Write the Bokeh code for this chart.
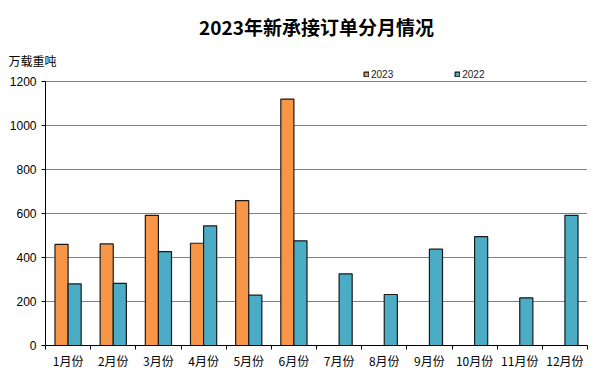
from bokeh.plotting import figure
from bokeh.models import (ColumnDataSource, FixedTicker, Range1d, Title,
                          Legend, LegendItem)
from bokeh.transform import dodge
from bokeh.embed import file_html
from bokeh.resources import INLINE

# ---- data -------------------------------------------------------------
months = ["1月份", "2月份", "3月份", "4月份", "5月份", "6月份",
          "7月份", "8月份", "9月份", "10月份", "11月份", "12月份"]
orders_2023 = [460, 462, 592, 465, 659, 1121]
orders_2022 = [280, 283, 427, 544, 229, 476, 326, 232, 438, 495, 217, 592]
y_ticks = [0, 200, 400, 600, 800, 1000, 1200]
series_names = ["2023", "2022"]
title_text = "2023年新承接订单分月情况"
unit_text = "万载重吨"

ORANGE = "#F79646"
AQUA = "#4BACC6"
CJK = "Noto Sans CJK SC"

centers = [i + 0.5 for i in range(len(months))]
bounds = list(range(len(months) + 1))

src23 = ColumnDataSource(dict(x=centers[:len(orders_2023)], top=orders_2023))
src22 = ColumnDataSource(dict(x=centers, top=orders_2022))

p = figure(width=600, height=389, output_backend="svg", toolbar_location=None,
           x_range=Range1d(0, len(months)), y_range=Range1d(0, 1260),
           min_border_left=45, min_border_right=13, min_border_top=68,
           min_border_bottom=44)
p.background_fill_color = "white"
p.border_fill_color = "white"
p.outline_line_color = None

r23 = p.vbar(x=dodge("x", -0.145, range=p.x_range), top="top", width=0.29,
             source=src23, fill_color=ORANGE, line_color="#1a1a1a", line_width=1.2)
r22 = p.vbar(x=dodge("x", 0.145, range=p.x_range), top="top", width=0.29,
             source=src22, fill_color=AQUA, line_color="#1a1a1a", line_width=1.2)

# grid
p.xgrid.grid_line_color = None
p.ygrid.ticker = FixedTicker(ticks=y_ticks)
p.ygrid.grid_line_color = "black"
p.ygrid.grid_line_dash = "1 1"
p.ygrid.grid_line_width = 1

# y axis
ya = p.yaxis[0]
ya.ticker = FixedTicker(ticks=y_ticks)
ya.bounds = (y_ticks[0], y_ticks[-1])
ya.axis_line_color = "black"
ya.major_tick_out = 4
ya.major_tick_in = 0
ya.major_tick_line_color = "black"
ya.minor_tick_line_color = None
ya.major_label_text_font = "Liberation Sans"
ya.major_label_text_font_size = "12px"
ya.major_label_text_color = "black"
ya.major_label_standoff = 5

# x axis
xa = p.xaxis[0]
xa.ticker = FixedTicker(ticks=centers, minor_ticks=bounds)
xa.major_label_overrides = {c: m for c, m in zip(centers, months)}
xa.axis_line_color = "black"
xa.major_tick_out = 0
xa.major_tick_in = 0
xa.minor_tick_out = 4
xa.minor_tick_in = 0
xa.minor_tick_line_color = "black"
xa.major_label_text_font = CJK
xa.major_label_text_font_size = "12px"
xa.major_label_text_color = "black"
xa.major_label_standoff = 2

# legend (inside the frame, above the 1200 gridline)
legend = Legend(items=[LegendItem(label=series_names[0], renderers=[r23]),
                       LegendItem(label=series_names[1], renderers=[r22])],
                location=(318, 265), orientation="horizontal",
                glyph_width=6, glyph_height=6, label_standoff=2, spacing=61,
                padding=0, margin=0, border_line_color=None,
                background_fill_alpha=0, label_height=12,
                label_text_font="Liberation Sans", label_text_font_size="10px",
                label_text_color="#222222")
p.add_layout(legend)

# unit label
p.add_layout(Title(text=unit_text, align="left", offset=-37,
                   text_font=CJK, text_font_size="12px",
                   text_font_style="normal", text_color="black",
                   standoff=0), "above")

# main title
p.title = Title(text=title_text, align="center", offset=-11,
                text_font=CJK, text_font_size="19px", text_font_style="bold",
                text_color="black", standoff=20)

open("out.html", "w").write(file_html(p, INLINE))
